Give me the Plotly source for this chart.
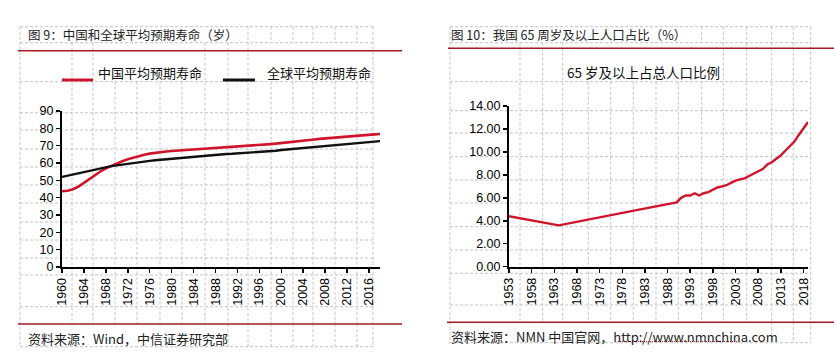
import plotly.graph_objects as go

# ---------------- data ----------------
years_life = list(range(1960, 2019))
china_life = [43.7, 44.0, 44.9, 46.4, 48.5, 50.8, 53.1, 55.1, 56.9, 58.4,
              59.8, 61.0, 62.1, 63.1, 64.0, 64.8, 65.4, 65.9, 66.3, 66.6,
              66.9, 67.1, 67.3, 67.5, 67.7, 67.9, 68.2, 68.5, 68.7, 68.9,
              69.1, 69.3, 69.4, 69.6, 69.8, 70.0, 70.3, 70.6, 70.9, 71.2,
              71.6, 72.0, 72.3, 72.7, 73.0, 73.3, 73.6, 73.9, 74.2, 74.5,
              74.8, 75.1, 75.4, 75.6, 75.9, 76.1, 76.3, 76.5, 76.7]
world_life = [52.0, 52.7, 53.3, 54.0, 54.8, 55.6, 56.4, 57.1, 57.7, 58.2,
              58.6, 59.1, 59.5, 60.0, 60.4, 60.8, 61.2, 61.6, 61.9, 62.2,
              62.5, 62.8, 63.2, 63.4, 63.7, 64.0, 64.3, 64.5, 64.7, 64.9,
              65.2, 65.3, 65.5, 65.6, 65.8, 66.0, 66.3, 66.6, 66.8, 67.1,
              67.5, 67.8, 68.0, 68.3, 68.6, 68.9, 69.3, 69.6, 69.9, 70.3,
              70.6, 70.9, 71.2, 71.5, 71.7, 71.9, 72.2, 72.4, 72.6]
years_aged = [1953, 1964, 1982, 1987] + list(range(1990, 2020))
aged_share = [4.4, 3.6, 5.0, 5.4,
              5.6, 6.0, 6.2, 6.2, 6.4, 6.2, 6.4, 6.5, 6.7, 6.9,
              7.0, 7.1, 7.3, 7.5, 7.6, 7.7, 7.9, 8.1, 8.3, 8.5,
              8.9, 9.1, 9.4, 9.7, 10.1, 10.5, 10.9, 11.5, 12.0, 12.6]
left_ticks = list(range(1960, 2017, 4))
right_ticks = list(range(1953, 2019, 5))
left_yticks = list(range(0, 91, 10))
right_yticks = [0, 2, 4, 6, 8, 10, 12, 14]

name_china = "中国平均预期寿命"
name_world = "全球平均预期寿命"
name_aged = "65 岁及以上占总人口比例"
title_left = "图 9：中国和全球平均预期寿命（岁）"
title_right = "图 10：我国 65 周岁及以上人口占比（%）"
src_left = "资料来源：Wind，中信证券研究部"
src_right = "资料来源：NMN 中国官网，http://www.nmnchina.com"

# ---------------- layout helpers ----------------
W, H = 834, 358
def px(x):
    return x / W
def py(y):
    return 1 - y / H

RED = "#d0142c"
RULE = "#a01c22"
GRID = "#c4c4c4"
CJK = "Noto Sans CJK SC, Noto Sans, sans-serif"
NUM = "Liberation Sans, Arial, sans-serif"

fig = go.Figure()
fig.add_trace(go.Scatter(x=years_life, y=china_life, mode="lines", name=name_china,
                         line=dict(color=RED, width=2.6), xaxis="x", yaxis="y"))
fig.add_trace(go.Scatter(x=years_life, y=world_life, mode="lines", name=name_world,
                         line=dict(color="#111111", width=2.4), xaxis="x", yaxis="y"))
fig.add_trace(go.Scatter(x=years_aged, y=aged_share, mode="lines", name=name_aged,
                         line=dict(color=RED, width=2.4), xaxis="x2", yaxis="y2"))

axis_common = dict(showgrid=False, zeroline=False, showline=True, linecolor="#000000",
                   linewidth=2, ticks="outside", ticklen=4, tickwidth=1.5, tickcolor="#000000",
                   tickfont=dict(family=NUM, size=12.5, color="#000000"), fixedrange=True,
                   automargin=False)

fig.update_layout(
    width=W, height=H, autosize=False,
    margin=dict(l=0, r=0, t=0, b=0, pad=0),
    paper_bgcolor="white", plot_bgcolor="rgba(0,0,0,0)",
    showlegend=False,
    xaxis=dict(domain=[px(62), px(380)], range=[1960, 2018], tickvals=left_ticks,
               tickangle=-90, anchor="y", **axis_common),
    yaxis=dict(domain=[py(267), py(111)], range=[0, 90], tickvals=left_yticks,
               anchor="x", **axis_common),
    xaxis2=dict(domain=[px(509), px(808)], range=[1953, 2019], tickvals=right_ticks,
                tickangle=-90, anchor="y2", **axis_common),
    yaxis2=dict(domain=[py(266.7), py(106)], range=[0, 14], tickvals=right_yticks,
                tickformat=".2f", anchor="x2", **axis_common),
)

shapes = []
def hline(x0, x1, y, color=GRID, width=1, dash="3px,2px", layer="below"):
    shapes.append(dict(type="line", xref="paper", yref="paper", x0=px(x0), x1=px(x1),
                       y0=py(y), y1=py(y), line=dict(color=color, width=width, dash=dash),
                       layer=layer))
def vline(x, y0, y1, color=GRID, width=1, dash="3px,2px"):
    shapes.append(dict(type="line", xref="paper", yref="paper", x0=px(x), x1=px(x),
                       y0=py(y0), y1=py(y1), line=dict(color=color, width=width, dash=dash),
                       layer="below"))

# left panel background grid
L_rows = [26.7, 42.7, 81.7, 112.7, 130, 149, 167, 185, 203, 222, 240, 258, 275, 306.7, 346.7]
L_cols = [72, 93, 115, 137, 160, 182, 205, 228, 248, 271, 293, 313, 335, 357]
for y in L_rows:
    hline(20, 373, y)
for x in (20, 373):
    vline(x, 26.7, 346.7)
for x in L_cols:
    top = 81.7 if (97 <= x <= 200 or 262 <= x <= 370) else 42.7
    vline(x, top, 324)
    if x >= 248:
        vline(x, 26.7, 42.7)
    if x >= 228:
        vline(x, 324, 346.7)

# right panel background grid
R_rows = [26.7, 42.7, 81.7, 110.7, 133, 156.7, 180, 203, 226.7, 250, 273.3, 305, 342.7]
R_cols = [520, 542.7, 562.7, 588.3, 610.7, 633.3, 656, 678.3, 701.7, 723.3, 746.7, 771.7, 793.3]
for y in R_rows:
    hline(450, 810.7, y)
for x in (450, 810.7):
    vline(x, 26.7, 342.7)
for x in R_cols:
    top = 81.7 if 566 <= x <= 721 else 42.7
    vline(x, top, 322.3)
    if x >= 700:
        vline(x, 26.7, 42.7)
    if x >= 770:
        vline(x, 322.3, 342.7)

# red rules
hline(18, 402, 50.7, color=RULE, width=1.5, dash="solid", layer="above")
hline(18, 402, 324, color=RULE, width=1.5, dash="solid", layer="above")
hline(448, 834, 48.3, color=RULE, width=1.5, dash="solid", layer="above")
hline(447, 834, 322.3, color=RULE, width=1.5, dash="solid", layer="above")

# legend line samples
hline(62, 93, 80, color=RED, width=3, dash="solid", layer="above")
hline(223, 255, 80, color="#111111", width=3, dash="solid", layer="above")

# spell-check underline under url
hline(618, 740, 341.5, color="#e02020", width=1, dash="1px,1px", layer="above")

fig.update_layout(shapes=shapes)

ann = []
def text(x, y, s, size=12, anchor="left", color="#222222", family=CJK):
    ann.append(dict(xref="paper", yref="paper", x=px(x), y=py(y), text=s, showarrow=False,
                    xanchor=anchor, yanchor="middle",
                    font=dict(family=family, size=size, color=color)))

text(26, 35, title_left, size=12.5)
text(449, 35, title_right, size=12.5)
text(96, 72, name_china, size=13, color="#111111")
text(265, 72, name_world, size=13, color="#111111")
text(643.5, 72, name_aged, size=13.5, anchor="center", color="#111111")
text(26, 338, src_left, size=13)
text(449, 336, src_right, size=13)

fig.update_layout(annotations=ann)

fig.write_html("out.html", config={"displayModeBar": False, "staticPlot": True},
               post_script="document.body.style.margin='0';document.body.style.overflow='hidden';")
